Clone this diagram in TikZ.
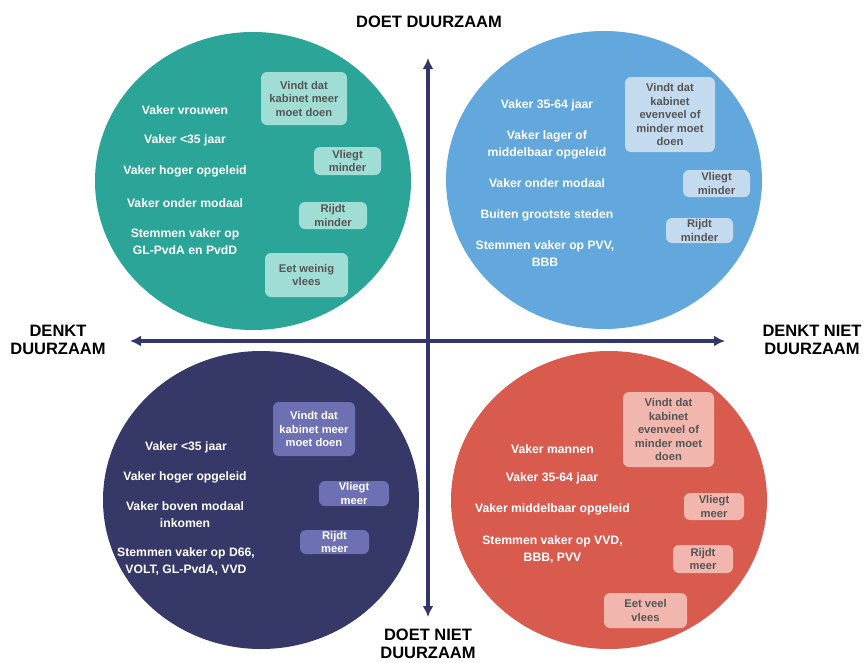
\documentclass[tikz,border=0pt]{standalone}
\usepackage{fontspec}
\setmainfont{Liberation Sans}
\usetikzlibrary{arrows.meta,shapes.geometric}
\definecolor{tealc}{RGB}{42,165,152}
\definecolor{tealt}{RGB}{160,222,213}
\definecolor{bluec}{RGB}{98,168,221}
\definecolor{bluet}{RGB}{196,218,238}
\definecolor{navyc}{RGB}{54,57,104}
\definecolor{navyt}{RGB}{110,112,180}
\definecolor{redc}{RGB}{217,91,78}
\definecolor{redt}{RGB}{241,182,174}
\definecolor{axisc}{RGB}{50,54,104}
\definecolor{tagtext}{RGB}{85,85,85}
\begin{document}
\begin{tikzpicture}[x=1pt,y=-1pt,
  bubble/.style={ellipse, minimum width=316pt, minimum height=298pt, inner sep=0pt},
  info/.style={text=white, font=\bfseries\fontsize{12.2}{17}\selectfont, align=center, inner sep=0pt},
  tag/.style={rounded corners=6pt, font=\bfseries\fontsize{11.2}{13.5}\selectfont, align=center, inner sep=0pt, text=tagtext},
  axislabel/.style={font=\bfseries\fontsize{16.5}{18.5}\selectfont, align=center, text=black, inner sep=0pt},
  axisline/.style={draw=axisc, line width=3.2pt, {Latex[length=11pt,width=11pt]}-{Latex[length=11pt,width=11pt]}}]
\useasboundingbox (0,0) rectangle (864,662);
\fill[white] (0,0) rectangle (864,662);

% circles
\node[bubble, fill=tealc] (ctl) at (253,181) {};
\node[bubble, fill=bluec] (ctr) at (604,180) {};
\node[bubble, fill=navyc] (cbl) at (261,500) {};
\node[bubble, fill=redc] (cbr) at (609,500) {};

% axes
\coordinate (top) at (428,58);
\coordinate (bottom) at (428,617);
\coordinate (left) at (130,341);
\coordinate (right) at (725,341);
\draw[axisline] (bottom) -- (top);
\draw[axisline] (left) -- (right);

% axis labels
\node[axislabel] (ltop) at (429,22) {DOET DUURZAAM};
\node[axislabel] (lleft) at (58,340) {DENKT\\DUURZAAM};
\node[axislabel] (lright) at (812,340) {DENKT NIET\\DUURZAAM};
\node[axislabel] (lbottom) at (428,644) {DOET NIET\\DUURZAAM};

% top-left
\node[info] (tl1) at (185,110) {Vaker vrouwen};
\node[info] (tl2) at (185,140) {Vaker <35 jaar};
\node[info] (tl3) at (185,171) {Vaker hoger opgeleid};
\node[info] (tl4) at (185,203) {Vaker onder modaal};
\node[info] (tl5) at (185,241.5) {Stemmen vaker op\\GL-PvdA en PvdD};
\node[tag, fill=tealt, minimum width=86pt, minimum height=53pt] (tla) at (304,98.5) {Vindt dat\\kabinet meer\\moet doen};
\node[tag, fill=tealt, minimum width=67pt, minimum height=28pt] (tlb) at (347.5,161) {Vliegt\\minder};
\node[tag, fill=tealt, minimum width=68pt, minimum height=27pt] (tlc) at (333,215.5) {Rijdt\\minder};
\node[tag, fill=tealt, minimum width=83pt, minimum height=44pt] (tld) at (306.5,275) {Eet weinig\\vlees};

% top-right
\node[info] (tr1) at (547,105) {Vaker 35-64 jaar};
\node[info] (tr2) at (547,144.5) {Vaker lager of\\middelbaar opgeleid};
\node[info] (tr3) at (547,183) {Vaker onder modaal};
\node[info] (tr4) at (547,215) {Buiten grootste steden};
\node[info] (tr5) at (545,253.5) {Stemmen vaker op PVV,\\BBB};
\node[tag, fill=bluet, minimum width=90pt, minimum height=75pt] (tra) at (670,114.5) {Vindt dat\\kabinet\\evenveel of\\minder moet\\doen};
\node[tag, fill=bluet, minimum width=67pt, minimum height=27pt] (trb) at (716.5,183.5) {Vliegt\\minder};
\node[tag, fill=bluet, minimum width=67pt, minimum height=25pt] (trc) at (699.5,230.5) {Rijdt\\minder};

% bottom-left
\node[info] (bl1) at (186,447) {Vaker <35 jaar};
\node[info] (bl2) at (185,477) {Vaker hoger opgeleid};
\node[info] (bl3) at (185,515) {Vaker boven modaal\\inkomen};
\node[info] (bl4) at (186,561.5) {Stemmen vaker op D66,\\VOLT, GL-PvdA, VVD};
\node[tag, fill=navyt, text=white, minimum width=82pt, minimum height=54pt] (bla) at (314,429) {Vindt dat\\kabinet meer\\moet doen};
\node[tag, fill=navyt, text=white, minimum width=70pt, minimum height=25pt] (blb) at (354,493.5) {Vliegt\\meer};
\node[tag, fill=navyt, text=white, minimum width=69pt, minimum height=24pt] (blc) at (334.5,542) {Rijdt\\meer};

% bottom-right
\node[info] (br1) at (552.5,449) {Vaker mannen};
\node[info] (br2) at (552,478) {Vaker 35-64 jaar};
\node[info] (br3) at (552.5,509) {Vaker middelbaar opgeleid};
\node[info] (br4) at (552.5,550) {Stemmen vaker op VVD,\\BBB, PVV};
\node[tag, fill=redt, minimum width=91pt, minimum height=75pt] (bra) at (668.5,429.5) {Vindt dat\\kabinet\\evenveel of\\minder moet\\doen};
\node[tag, fill=redt, minimum width=60pt, minimum height=27pt] (brb) at (714,506.5) {Vliegt\\meer};
\node[tag, fill=redt, minimum width=60pt, minimum height=28pt] (brc) at (703,559) {Rijdt\\meer};
\node[tag, fill=redt, minimum width=83pt, minimum height=35pt] (brd) at (645.5,610.5) {Eet veel\\vlees};
\end{tikzpicture}
\end{document}
